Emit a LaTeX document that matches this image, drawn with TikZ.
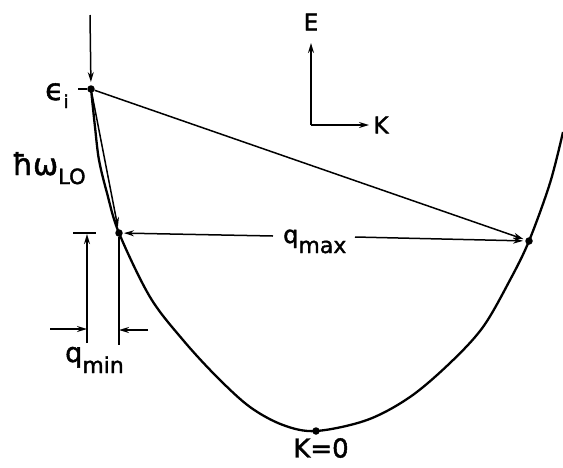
\documentclass[tikz,border=0pt]{standalone}
\usepackage{fontspec}
\setmainfont{DejaVu Sans}[FakeBold=1.6,AutoFakeBold=1.6]
\usetikzlibrary{arrows.meta}
\tikzset{
  curveline/.style={line width=2.3pt},
  arr/.style={line width=1.5pt,-{Stealth[length=10pt,width=6pt]}},
  plainline/.style={line width=1.5pt},
  dot/.style={circle,fill=black,inner sep=0pt,minimum size=7.5pt},
  lbl/.style={inner sep=0pt}
}
\newcommand{\fs}[1]{\fontsize{#1}{#1}\selectfont\bfseries}
\begin{document}
\begin{tikzpicture}[x=1pt,y=-1pt]
\useasboundingbox (0,0) rectangle (563,467);
% dispersion curve
\draw[curveline] plot[smooth,tension=0.55] coordinates {(91,89) (95,127) (99,160) (107,193) (119,233) (150,297) (183,340) (217,377) (250,407) (283,425) (316,431) (367,420) (410,397) (450,363) (483,327) (510,280) (529,241) (550,183) (563,132)};
% points
\node[dot] (ei) at (91,89) {};
\node[dot] (A) at (119,233) {};
\node[dot] (B) at (529,241) {};
\node[dot] (O) at (316,431) {};
% incoming arrow
\coordinate (top) at (90,15);
\draw[arr,shorten >=3pt] (top) -- (ei);
% transitions
\draw[arr,shorten >=2pt] (ei) -- (A);
\draw[arr,shorten >=2pt] (ei) -- (B);
% q_max
\coordinate (qL) at (273,236);
\coordinate (qR) at (355,237);
\draw[arr,shorten >=1pt] (qL) -- (A);
\draw[arr,shorten >=2pt] (qR) -- (B);
\node[lbl,anchor=base west] (qmax) at (283,243) {\fs{24}q\raisebox{-10pt}{\fs{22}max}};
% epsilon_i label
\node[lbl,anchor=base west] (eps) at (45,100) {\fs{30}ϵ\raisebox{-8pt}{\fs{18}i}};
\coordinate (d1) at (78,89);
\draw[plainline] (d1) -- (ei);
% hbar omega LO
\node[lbl,anchor=base west] (hw) at (12,175) {\fs{30}ħω\raisebox{-9pt}{\fs{21}LO}};
% q_min construction
\coordinate (tbL) at (73,233);
\coordinate (tbR) at (96,233);
\coordinate (vt) at (87,233);
\coordinate (vb) at (87,343);
\coordinate (rb) at (119,345);
\draw[plainline] (tbL) -- (tbR);
\draw[arr,shorten >=1pt] (vb) -- (vt);
\draw[plainline] (A) -- (rb);
\coordinate (hl1) at (50,329);
\coordinate (hl2) at (87,329);
\coordinate (hr1) at (148,330);
\coordinate (hr2) at (119,330);
\draw[arr] (hl1) -- (hl2);
\draw[arr] (hr1) -- (hr2);
\node[lbl,anchor=base west] (qmin) at (65,362) {\fs{27}q\raisebox{-11pt}{\fs{22}min}};
% axes
\coordinate (ax0) at (311,125);
\coordinate (axE) at (311,43);
\coordinate (axK) at (369,125);
\draw[arr] (ax0) -- (axE);
\draw[arr] (ax0) -- (axK);
\node[lbl] (E) at (311,22) {\fs{23}E};
\node[lbl] (K) at (381,125) {\fs{23}K};
% K=0
\node[lbl] (k0) at (321,448) {\fs{26}K=0};
\end{tikzpicture}
\end{document}
